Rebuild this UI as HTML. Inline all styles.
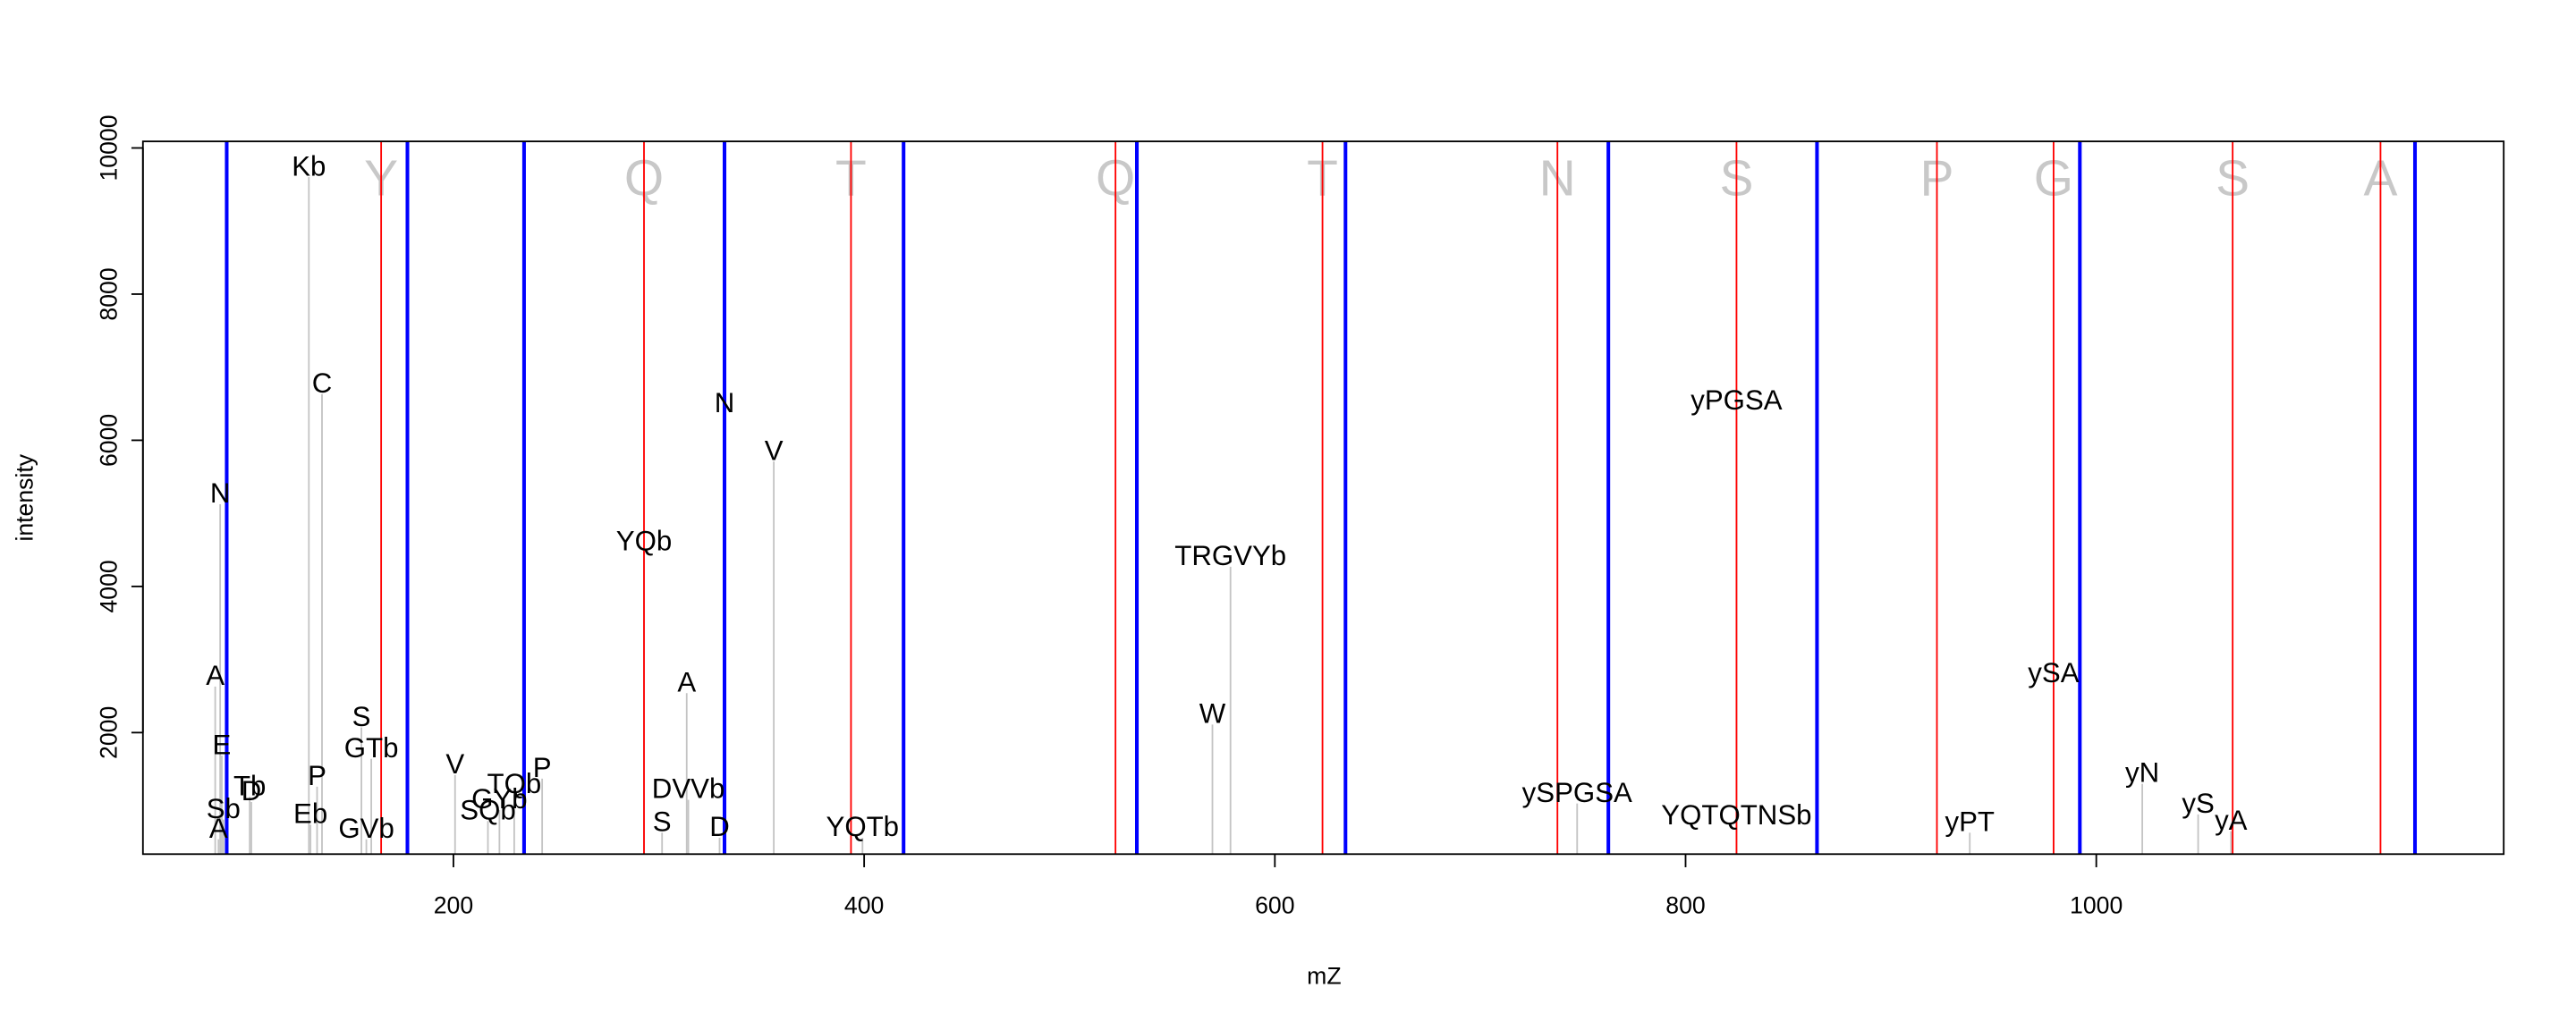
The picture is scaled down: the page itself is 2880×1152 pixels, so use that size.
<!DOCTYPE html>
<html><head><meta charset="utf-8"><style>html,body{margin:0;padding:0;background:#fff}svg{display:block}</style></head>
<body>
<svg id="chart" width="2880" height="1152" viewBox="0 0 1568 627" xmlns="http://www.w3.org/2000/svg" font-family="Liberation Sans, sans-serif"></svg>
<script>
const peakMz = [86.4,84,87.2,88,85.6,100.8,101.6,129.6,136,133.6,130.4,155.2,160,157.6,200.8,216.8,222.4,229.6,243.2,292.8,332,356,313.6,314.4,301.6,329.6,399.2,578.4,569.6,747.2,824.8,824.8,938.4,979.2,1022.4,1049.6,1065.6];
const peakInt = [5124,2630,1685,810,540,1120,1050,9600,6630,1260,740,2070,1640,540,1420,790,940,1150,1370,4470,6360,5710,2540,1080,630,560,560,4270,2110,1030,6400,720,630,2670,1300,880,650];
const peakLabels = ["N","A","E","Sb","A","Tb","D","Kb","C","P","Eb","S","GTb","GVb","V","SQb","GYb","TQb","P","YQb","N","V","A","DVVb","S","D","YQTb","TRGVYb","W","ySPGSA","yPGSA","YQTQTNSb","yPT","ySA","yN","yS","yA"];
const redMz = [164.8,292.8,393.6,522.4,623.2,737.6,824.8,922.4,979.2,1066.4,1138.4];
const residues = ["Y","Q","T","Q","T","N","S","P","G","S","A"];
const blueMz = [89.6,177.6,234.4,332,419.2,532.8,634.4,762.4,864,992,1155.2];
const xTicks = [200,400,600,800,1000];
const yTicks = [2000,4000,6000,8000,10000];

const NS="http://www.w3.org/2000/svg";
const svg=document.getElementById('chart');
const L=87,R=1524,T=86,B=520;
const xs=m=>276+(m-200)*1.25;
const ys=v=>535-v*0.0445;
function el(tag,attrs,parent){const e=document.createElementNS(NS,tag);for(const k in attrs)e.setAttribute(k,attrs[k]);(parent||svg).appendChild(e);return e;}

const plot=el('g',{});



peakMz.forEach((m,i)=>{
  const ln=el('line',{x1:xs(m),x2:xs(m),y1:ys(peakInt[i]),y2:B,stroke:'#c4c4c4','stroke-width':1},plot);
  
  
});
redMz.forEach((m,i)=>{
  const t=el('text',{x:xs(m),y:119,'font-size':31,fill:'#c8c8c8','text-anchor':'middle'},plot);
  t.textContent=residues[i];
  
  
});
redMz.forEach((m)=>{
  const ln=el('line',{x1:xs(m),x2:xs(m),y1:T,y2:B,stroke:'#ff0000','stroke-width':1},plot);
  
  
});
blueMz.forEach((m)=>{
  const ln=el('line',{x1:xs(m),x2:xs(m),y1:T,y2:B,stroke:'#0000ff','stroke-width':2.2},plot);
  
  
});
peakMz.forEach((m,i)=>{
  const t=el('text',{x:xs(m),y:ys(peakInt[i])-1,'font-size':17,fill:'#000','text-anchor':'middle'},plot);
  t.textContent=peakLabels[i];
  
  
});
const box=el('rect',{x:L,y:T,width:R-L,height:B-T,fill:'none',stroke:'#000','stroke-width':1});



xTicks.forEach(v=>{
  const tk=el('line',{x1:xs(v),x2:xs(v),y1:B,y2:B+8,stroke:'#000'});
  
  
  const t=el('text',{x:xs(v),y:556,'font-size':14.5,'text-anchor':'middle'});
  t.textContent=v;
  
  
});
yTicks.forEach(v=>{
  const tk=el('line',{x1:L-7,x2:L,y1:ys(v),y2:ys(v),stroke:'#000'});
  
  
  const t=el('text',{x:0,y:0,'font-size':14.5,'text-anchor':'middle',transform:`translate(71,${ys(v)}) rotate(-90)`});
  t.textContent=v;
  
  
});
const yax=el('line',{x1:L,x2:L,y1:ys(2000),y2:ys(10000),stroke:'#000'});


const xt=el('text',{x:806,y:599,'font-size':14.5,'text-anchor':'middle'});
xt.textContent='mZ';


const yt=el('text',{x:0,y:0,'font-size':14.5,'text-anchor':'middle',transform:'translate(20,303) rotate(-90)'});
yt.textContent='intensity';


</script>
</body></html>
